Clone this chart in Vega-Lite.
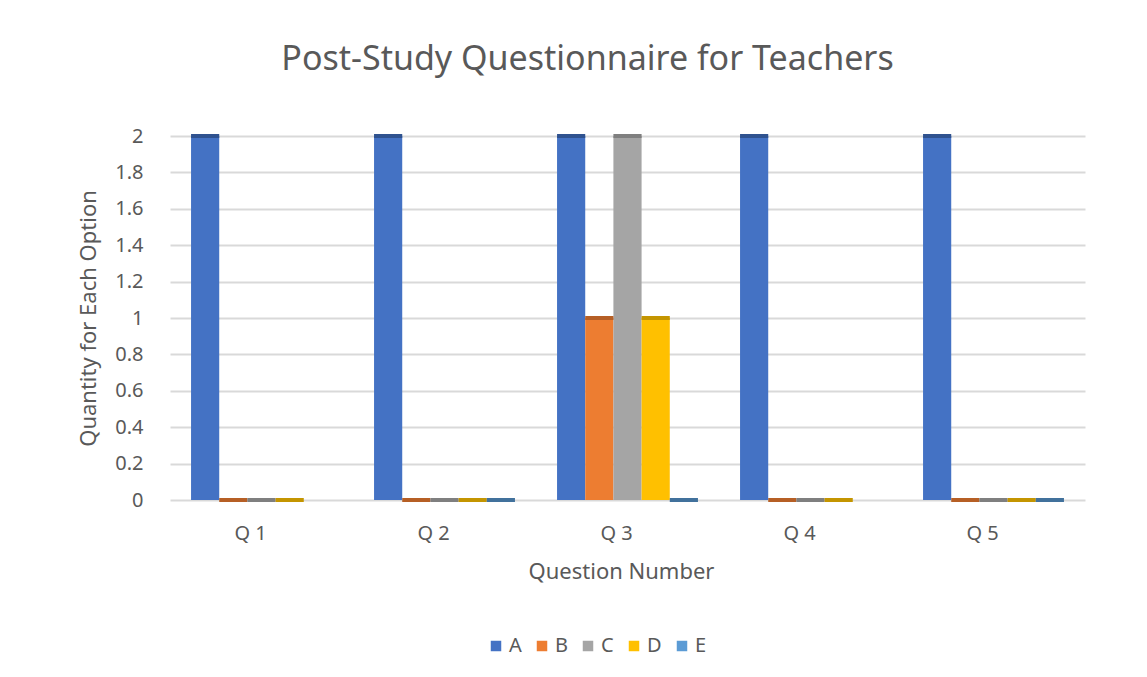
{
  "$schema": "https://vega.github.io/schema/vega-lite/v6.json",
  "autosize": "none",
  "width": 915,
  "height": 364,
  "padding": {"left": 170, "top": 136, "right": 62, "bottom": 177},
  "background": "white",
  "config": {
    "font": "Noto Sans",
    "view": {"stroke": null},
    "axis": {"labelColor": "#595959", "titleColor": "#595959", "titleFontWeight": "normal"}
  },
  "title": {
    "text": "Post-Study Questionnaire for Teachers",
    "fontSize": 34,
    "fontWeight": "normal",
    "color": "#595959",
    "anchor": "middle",
    "dx": -40,
    "offset": 49
  },
  "data": {
    "values": [
      {"question": "Q 1", "option": "A", "count": 2},
      {"question": "Q 1", "option": "B", "count": 0},
      {"question": "Q 1", "option": "C", "count": 0},
      {"question": "Q 1", "option": "D", "count": 0},
      {"question": "Q 2", "option": "A", "count": 2},
      {"question": "Q 2", "option": "B", "count": 0},
      {"question": "Q 2", "option": "C", "count": 0},
      {"question": "Q 2", "option": "D", "count": 0},
      {"question": "Q 2", "option": "E", "count": 0},
      {"question": "Q 3", "option": "A", "count": 2},
      {"question": "Q 3", "option": "B", "count": 1},
      {"question": "Q 3", "option": "C", "count": 2},
      {"question": "Q 3", "option": "D", "count": 1},
      {"question": "Q 3", "option": "E", "count": 0},
      {"question": "Q 4", "option": "A", "count": 2},
      {"question": "Q 4", "option": "B", "count": 0},
      {"question": "Q 4", "option": "C", "count": 0},
      {"question": "Q 4", "option": "D", "count": 0},
      {"question": "Q 5", "option": "A", "count": 2},
      {"question": "Q 5", "option": "B", "count": 0},
      {"question": "Q 5", "option": "C", "count": 0},
      {"question": "Q 5", "option": "D", "count": 0},
      {"question": "Q 5", "option": "E", "count": 0}
    ]
  },
  "encoding": {
    "x": {
      "field": "question",
      "type": "nominal",
      "scale": {"paddingInner": 0.23, "paddingOuter": 0.115},
      "axis": {
        "title": "Question Number",
        "labelAngle": 0,
        "labelFontSize": 20,
        "titleFontSize": 22,
        "ticks": false,
        "domain": false,
        "labelPadding": 23,
        "labelOffset": -11,
        "titleX": 451,
        "titlePadding": 18
      }
    },
    "xOffset": {"field": "option", "type": "nominal", "scale": {"domain": ["A", "B", "C", "D", "E"], "paddingInner": 0}},
    "y": {
      "field": "count",
      "type": "quantitative",
      "scale": {"domain": [0, 2]},
      "axis": {
        "title": "Quantity for Each Option",
        "values": [0, 0.2, 0.4, 0.6, 0.8, 1, 1.2, 1.4, 1.6, 1.8, 2],
        "format": "~g",
        "labelFontSize": 20,
        "titleFontSize": 22,
        "ticks": false,
        "domain": false,
        "labelPadding": 27,
        "titlePadding": 14,
        "gridColor": "#d9d9d9",
        "gridWidth": 2
      }
    },
    "color": {
      "field": "option",
      "type": "nominal",
      "scale": {"domain": ["A", "B", "C", "D", "E"], "range": ["#4472C4", "#ED7D31", "#A5A5A5", "#FFC000", "#5B9BD5"]},
      "legend": {
        "title": null,
        "orient": "none",
        "direction": "horizontal",
        "legendX": 316,
        "legendY": 500,
        "symbolType": "square",
        "symbolSize": 110,
        "symbolStrokeWidth": 0,
        "symbolOpacity": 1,
        "labelFontSize": 20,
        "labelColor": "#595959",
        "columnPadding": 10,
        "labelOffset": 3
      }
    }
  },
  "layer": [
    {"mark": {"type": "bar", "opacity": 1}},
    {
      "mark": {"type": "tick", "thickness": 4, "opacity": 1},
      "encoding": {
        "color": {
          "field": "option",
          "type": "nominal",
          "scale": {"domain": ["A", "B", "C", "D", "E"], "range": ["#2F528F", "#B65F25", "#7F7F7F", "#C49500", "#41719C"]},
          "legend": null
        }
      }
    }
  ],
  "resolve": {"scale": {"color": "independent"}}
}
